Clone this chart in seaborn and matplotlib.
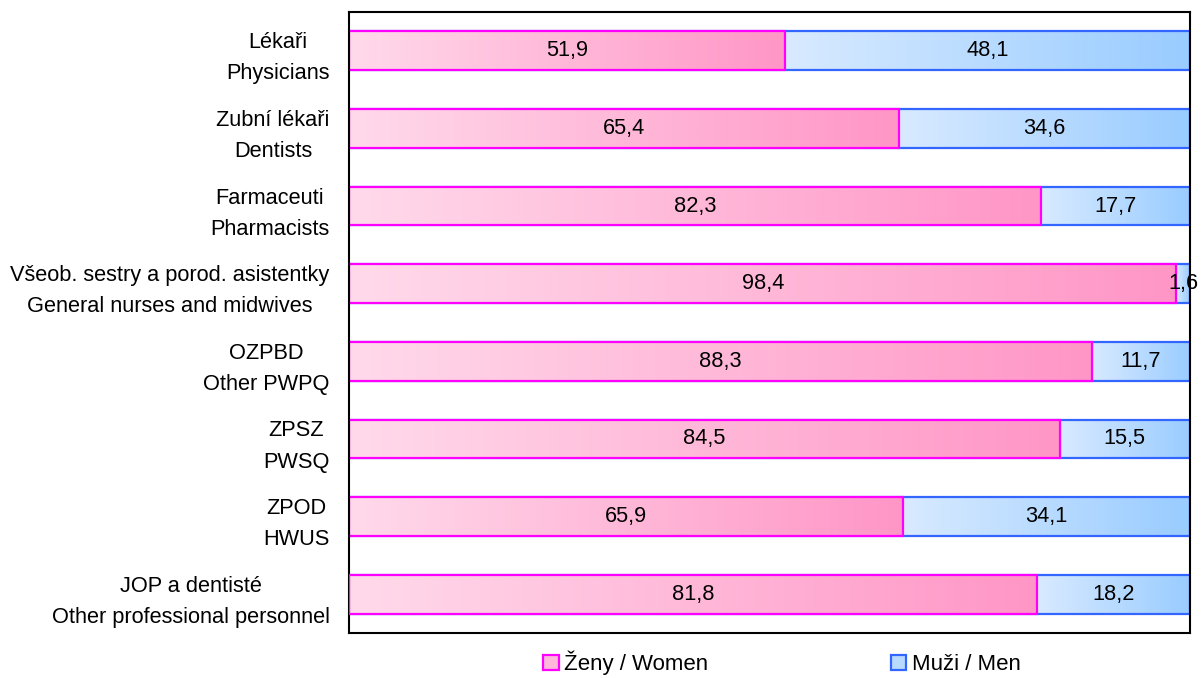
import numpy as np
import pandas as pd
import matplotlib
matplotlib.use('Agg')
import matplotlib.pyplot as plt
import seaborn as sns
from matplotlib.patches import Patch
from matplotlib.colors import to_rgb

# data
categories = [
    'Lékaři\nPhysicians',
    'Zubní lékaři\nDentists',
    'Farmaceuti\nPharmacists',
    'Všeob. sestry a porod. asistentky\nGeneral nurses and midwives',
    'OZPBD\nOther PWPQ',
    'ZPSZ\nPWSQ',
    'ZPOD\nHWUS',
    'JOP a dentisté\nOther professional personnel',
]
women = [51.9, 65.4, 82.3, 98.4, 88.3, 84.5, 65.9, 81.8]
men = [48.1, 34.6, 17.7, 1.6, 11.7, 15.5, 34.1, 18.2]
legend_labels = ['Ženy / Women', 'Muži / Men']

df = pd.DataFrame({'cat': categories, 'women': women, 'men': men})
df['total'] = df['women'] + df['men']

sns.set_style('white')
plt.rcParams['font.family'] = ['Liberation Sans', 'DejaVu Sans']
plt.rcParams['text.color'] = 'black'
plt.rcParams['ytick.color'] = 'black'

pink_l, pink_r, pink_e = '#FFDAEB', '#FF96C6', '#FF00FF'
blue_l, blue_r, blue_e = '#D8EAFF', '#99CCFF', '#3366FF'
fs = 15.7

fig = plt.figure(figsize=(12.01, 6.78), dpi=100)
ax = fig.add_axes([0.2906, 0.0664, 0.7002, 0.9159])

sns.barplot(data=df, x='total', y='cat', color=blue_r, width=0.5, ax=ax,
            edgecolor=blue_e, linewidth=1.6, saturation=1)
n_men = len(ax.patches)
sns.barplot(data=df, x='women', y='cat', color=pink_r, width=0.5, ax=ax,
            edgecolor=pink_e, linewidth=1.6, saturation=1)


def grad(c0, c1, n=256):
    a, b = np.array(to_rgb(c0)), np.array(to_rgb(c1))
    t = np.linspace(0, 1, n)[:, None]
    return (a + (b - a) * t)[None, :, :]


patches = list(ax.patches)
for k, p in enumerate(patches):
    x0, y0 = p.get_x(), p.get_y()
    h = p.get_height()
    if k < n_men:
        start = women[k]
        img = grad(blue_l, blue_r)
    else:
        start = x0
        img = grad(pink_l, pink_r)
    x1 = x0 + p.get_width()
    im = ax.imshow(img, extent=[start, x1, y0 + h, y0], aspect='auto',
                   zorder=p.get_zorder() + 0.1 * k, interpolation='bilinear')
    im.set_clip_path(p)
    p.set_facecolor('none')
    p.set_zorder(p.get_zorder() + 0.1 * k + 0.05)

ax.set_xlim(0, 100)
ax.set_ylim(len(categories) - 0.5, -0.5)

for i in range(len(categories)):
    ax.text(women[i] / 2, i, f'{women[i]:.1f}'.replace('.', ','),
            ha='center', va='center', fontsize=fs, zorder=20)
    ax.text(women[i] + men[i] / 2, i, f'{men[i]:.1f}'.replace('.', ','),
            ha='center', va='center', fontsize=fs, zorder=20)

ax.set_xlabel('')
ax.set_ylabel('')
ax.set_xticks([])
ax.tick_params(axis='y', length=0, pad=14, labelsize=fs, labelcolor='black')
for lab in ax.get_yticklabels():
    lab.set_multialignment('center')
    lab.set_linespacing(1.63)
for s in ax.spines.values():
    s.set_visible(True)
    s.set_color('black')
    s.set_linewidth(1.5)

handles = [Patch(facecolor='#FFB8DA', edgecolor=pink_e, linewidth=1.6),
           Patch(facecolor='#B8DAFF', edgecolor=blue_e, linewidth=1.6)]
fig.legend(handles, legend_labels, loc='center', bbox_to_anchor=(0.651, 0.022),
           ncol=2, frameon=False, fontsize=16, handlelength=0.7, handleheight=0.7,
           handletextpad=0.25, columnspacing=8.2)

fig.savefig('out.png', dpi=100)
